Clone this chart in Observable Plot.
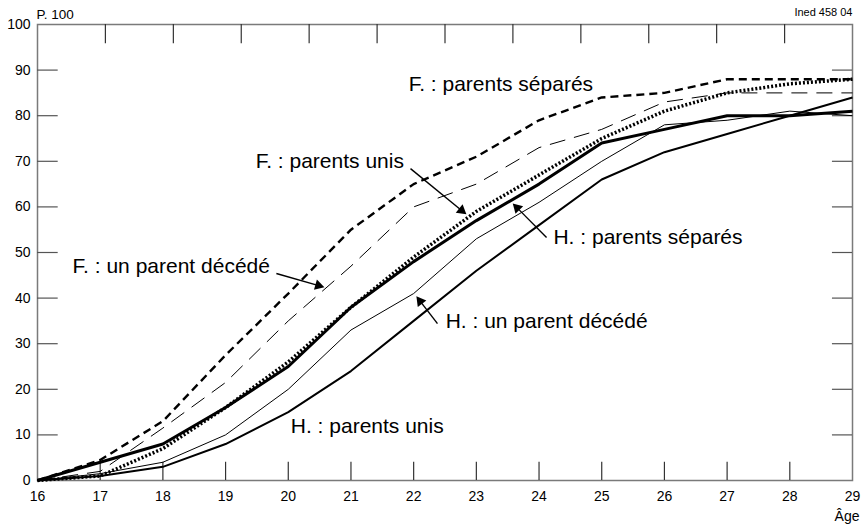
<!DOCTYPE html>
<html>
<head>
<meta charset="utf-8">
<script src="https://cdn.jsdelivr.net/npm/d3@7"></script>
<script src="https://cdn.jsdelivr.net/npm/@observablehq/plot@0.6"></script>
<style>
  html, body { margin: 0; padding: 0; background: #fff; }
  #chart svg { display: block; }
</style>
</head>
<body>
<div id="chart"></div>
<script>
// ---- Data ----
const ages = [16, 17, 18, 19, 20, 21, 22, 23, 24, 25, 26, 27, 28, 29];

const fSepares  = [0, 4.5, 13, 27.5, 41, 55, 65, 71, 79, 84, 85, 88, 88, 88];
const fDecede   = [0, 2, 11.5, 21.5, 35, 47, 60, 65, 73, 77, 83, 85, 85, 85];
const fUnis     = [0, 1, 7, 16, 26, 38, 49, 59, 67, 75, 81, 85, 87, 88];
const hSepares  = [0, 4, 8, 16, 25, 38, 48, 57, 65, 74, 77, 80, 80, 81];
const hDecede   = [0, 1.5, 4, 10, 20, 33, 41, 53, 61, 70, 78, 79, 81, 80];
const hUnis     = [0, 1, 3, 8, 15, 24, 35, 46, 56, 66, 72, 76, 80, 84];

const seriesNames = [
  "F. : parents séparés",
  "F. : un parent décédé",
  "F. : parents unis",
  "H. : parents séparés",
  "H. : un parent décédé",
  "H. : parents unis"
];
const seriesValues = [fSepares, fDecede, fUnis, hSepares, hDecede, hUnis];

const xTicks = [16, 17, 18, 19, 20, 21, 22, 23, 24, 25, 26, 27, 28, 29];
const yTicks = [0, 10, 20, 30, 40, 50, 60, 70, 80, 90, 100];
const topTicks = [17.083, 18.167, 19.25, 20.333, 21.417, 22.5, 23.583, 24.667, 25.75, 26.833, 27.917];

// label anchors (age, value) in data units
const labelAge   = [21.92, 16.56, 19.48, 24.23, 22.51, 20.04];
const labelValue = [86.8, 46.9, 69.9, 53.4, 35.0, 12.0];

// arrows: tail (age, value) -> tip (age, value)
const arrowFrom = [[21.95, 68.4], [19.81, 45.4], [24.12, 53.3], [22.38, 34.4]];
const arrowTo   = [[22.82, 58.6], [20.55, 42.5], [23.6, 60.5], [22.06, 40.1]];

// ---- Layout / styles ----
const W = 864, H = 528, mL = 37, mR = 12, mT = 24, mB = 48;
const kx = (W - mL - mR) / (29 - 16);   // px per year
const ky = (H - mT - mB) / 100;         // px per point

const lineStyles = [
  {strokeWidth: 2.4, strokeDasharray: "8,5"},
  {strokeWidth: 1, strokeDasharray: "16,9"},
  {strokeWidth: 3.5, strokeDasharray: "2,2"},
  {strokeWidth: 3, strokeDasharray: null},
  {strokeWidth: 1, strokeDasharray: null},
  {strokeWidth: 2, strokeDasharray: null}
];

const rows = [];
seriesNames.forEach((name, i) => {
  ages.forEach((a, j) => rows.push({series: name, age: a, value: seriesValues[i][j]}));
});
const labels = seriesNames.map((name, i) => ({name, age: labelAge[i], value: labelValue[i]}));
const arrows = arrowFrom.map((f, i) => {
  const t = arrowTo[i];
  const px = (t[0] - f[0]) * kx, py = -(t[1] - f[1]) * ky;
  const len = Math.hypot(px, py);
  const ux = px / len, uy = py / len;
  const back = 4.5; // triangle centre this many px behind the tip
  const stop = 6;   // shaft stops this many px before the tip
  return {
    x1: f[0], y1: f[1],
    x2s: t[0] - ux * stop / kx, y2s: t[1] + uy * stop / ky,
    hx: t[0] - ux * back / kx, hy: t[1] + uy * back / ky,
    angle: Math.atan2(px, -py) * 180 / Math.PI
  };
});

const font = "'Liberation Sans', Arial, Helvetica, sans-serif";

const lineMarks = seriesNames.map((name, i) =>
  Plot.line(rows.filter(d => d.series === name), {
    x: "age", y: "value", stroke: "black",
    strokeWidth: lineStyles[i].strokeWidth,
    strokeDasharray: lineStyles[i].strokeDasharray,
    strokeLinecap: "butt", strokeLinejoin: "miter"
  })
);

const chart = Plot.plot({
  width: W,
  height: H,
  marginLeft: mL,
  marginRight: mR,
  marginTop: mT,
  marginBottom: mB,
  x: {domain: [16, 29]},
  y: {domain: [0, 100]},
  style: {fontFamily: font, fontSize: "14px", background: "white", color: "black"},
  marks: [
    Plot.frame({stroke: "#7a7a7a", strokeWidth: 1.5}),
    // inner ticks
    Plot.ruleX(xTicks.slice(1, -1), {x: d => d, y1: 0, y2: 4, stroke: "#333", strokeWidth: 1.2}),
    Plot.ruleX(topTicks, {x: d => d, y1: 100, y2: 95.8, stroke: "#333", strokeWidth: 1.2}),
    Plot.ruleY(yTicks.slice(1, -1), {y: d => d, x1: 16, x2: 16.33, stroke: "#555", strokeWidth: 1.2}),
    Plot.ruleY(yTicks.slice(1, -1), {y: d => d, x1: 28.68, x2: 29, stroke: "#555", strokeWidth: 1.2}),
    Plot.axisX(xTicks, {tickSize: 0, tickPadding: 11, fontSize: 14, label: null}),
    Plot.axisY(yTicks, {tickSize: 0, tickPadding: 7, fontSize: 14, label: null}),
    ...lineMarks,
    Plot.link(arrows, {x1: "x1", y1: "y1", x2: "x2s", y2: "y2s", stroke: "black", strokeWidth: 1.4}),
    Plot.dot(arrows, {x: "hx", y: "hy", symbol: "triangle", r: 4, rotate: "angle", fill: "black", stroke: "none"}),
    Plot.text(labels, {x: "age", y: "value", text: "name", textAnchor: "start", lineAnchor: "middle", fontSize: 21, fill: "black"}),
    Plot.text(["P. 100"], {frameAnchor: "top-left", textAnchor: "start", lineAnchor: "bottom", dy: -6, dx: -1, fontSize: 13.5, fill: "black"}),
    Plot.text(["Ined 458 04"], {frameAnchor: "top-right", textAnchor: "end", lineAnchor: "bottom", dy: -9, fontSize: 11, fill: "black"}),
    Plot.text(["Âge"], {frameAnchor: "bottom-right", textAnchor: "end", lineAnchor: "bottom", dy: 40, dx: 7, fontSize: 14, fill: "black"})
  ]
});
document.getElementById("chart").append(chart);
</script>
</body>
</html>
